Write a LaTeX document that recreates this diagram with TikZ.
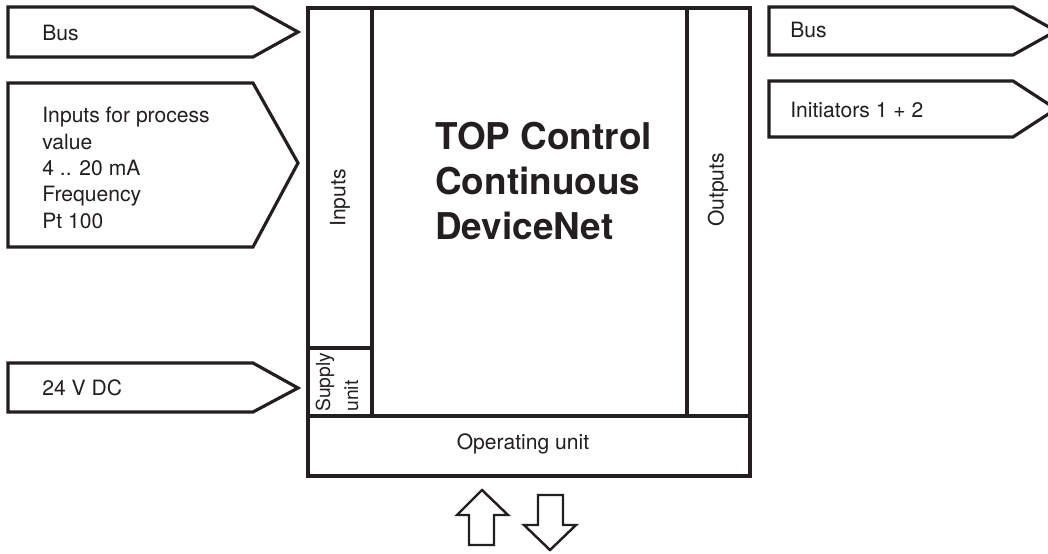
\documentclass[tikz,border=0pt]{standalone}
\usepackage{fontspec}
\setmainfont{TeX Gyre Heros}
\usetikzlibrary{positioning}
\definecolor{InkBlack}{RGB}{35,31,32}
\tikzset{
  frame/.style={draw=InkBlack,line width=1.8pt,line join=miter},
  sig/.style={draw=InkBlack,line width=1.8pt,line join=miter,fill=white},
  hollow/.style={draw=InkBlack,line width=1.4pt,line join=miter},
  lbl/.style={font=\fontsize{12}{15}\selectfont,text=InkBlack,inner sep=0pt,
              align=left,anchor=west},
  vlbl/.style={lbl,rotate=90,anchor=center},
  title/.style={font=\fontsize{21}{25.5}\selectfont\bfseries,text=InkBlack,
                inner sep=0pt,align=left,anchor=west},
}

\begin{document}
\begin{tikzpicture}[x=0.02cm,y=-0.02cm]
  \clip (0,0) rectangle (1048,554);

  % device block
  \draw[frame] (308,8) rectangle (750,476);
  \draw[frame] (372,8) -- (372,416);
  \draw[frame] (687,8) -- (687,416);
  \draw[frame] (308,348) -- (372,348);
  \draw[frame] (308,416) -- (750,416);

  \node[title] (device) at (435,181) {TOP Control\\Continuous\\DeviceNet};
  \node[vlbl] (inputs) at (340,198) {Inputs};
  \node[vlbl] (outputs) at (718,190) {Outputs};
  \node[vlbl,anchor=west,font=\fontsize{11}{16}\selectfont] (supply) at (337,412) {Supply\\unit};
  \node[lbl,anchor=center] (operating) at (523,444) {Operating unit};

  % signals in
  \draw[sig] (8,7) -- (253,7) -- (298,32) -- (253,57) -- (8,57) -- cycle;
  \draw[sig] (8,83) -- (253,83) -- (298,163) -- (253,247) -- (8,247) -- cycle;
  \draw[sig] (8,363) -- (253,363) -- (298,388) -- (253,412) -- (8,412) -- cycle;
  \node[lbl] (busin) at (42,33) {Bus};
  \node[lbl] (process) at (42,168) {Inputs for process\\value\\4 .. 20 mA\\Frequency\\Pt 100};
  \node[lbl] (supplyin) at (42,388) {24 V DC};

  % signals out
  \draw[sig] (769,7) -- (1013,7) -- (1056,31) -- (1013,55) -- (769,55) -- cycle;
  \draw[sig] (769,81) -- (1013,81) -- (1056,109) -- (1013,137) -- (769,137) -- cycle;
  \node[lbl] (busout) at (790,30) {Bus};
  \node[lbl] (initiators) at (790,110) {Initiators 1 + 2};

  % keys
  \draw[hollow] (482,490) -- (508,515) -- (494,515) -- (494,545)
    -- (469,545) -- (469,515) -- (457,515) -- cycle;
  \draw[hollow] (550,550) -- (576,525) -- (563,525) -- (563,495)
    -- (538,495) -- (538,525) -- (524,525) -- cycle;
\end{tikzpicture}
\end{document}
